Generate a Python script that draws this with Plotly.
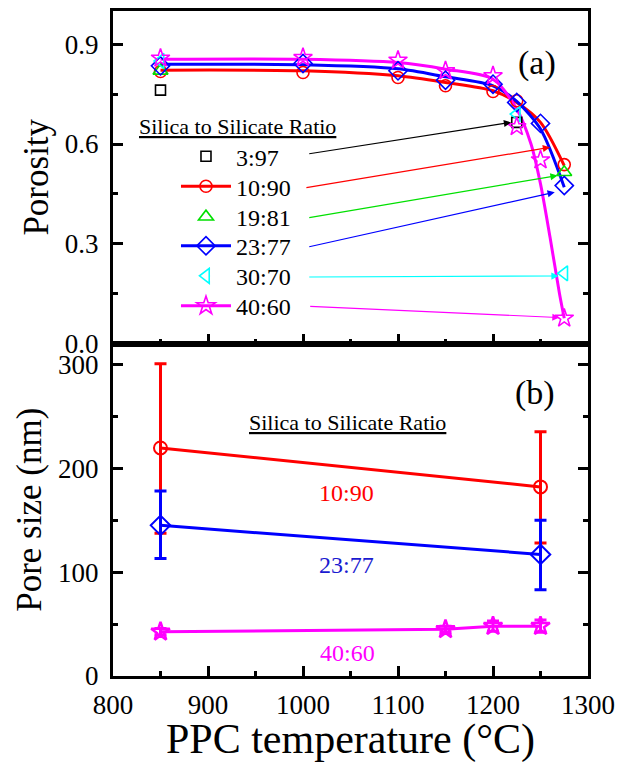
import plotly.graph_objects as go

FONT = "Liberation Serif"

# ---------------- Panel (a): porosity vs PPC temperature ----------------
ratios = ["3:97", "10:90", "19:81", "23:77", "30:70", "40:60"]

T_black = [850, 1225]
P_black = [0.762, 0.665]

T_red = [850, 1000, 1100, 1150, 1200, 1225, 1275]
P_red = [0.818, 0.815, 0.800, 0.775, 0.758, 0.730, 0.538]

T_green = [850, 1275]
P_green = [0.820, 0.515]

T_blue = [850, 1000, 1100, 1150, 1200, 1225, 1250, 1275]
P_blue = [0.835, 0.842, 0.820, 0.792, 0.780, 0.725, 0.662, 0.475]

T_cyan = [850, 1225, 1275]
P_cyan = [0.850, 0.690, 0.211]

T_mag = [850, 1000, 1100, 1150, 1200, 1225, 1250, 1275]
P_mag = [0.858, 0.860, 0.852, 0.820, 0.805, 0.652, 0.552, 0.076]

# fitted curves
fitT_red = [850, 1000, 1100, 1150, 1200, 1225, 1250, 1275]
fitP_red = [0.822, 0.820, 0.805, 0.785, 0.760, 0.725, 0.665, 0.535]
fitT_blue = [850, 1000, 1100, 1150, 1200, 1225, 1250, 1275]
fitP_blue = [0.840, 0.838, 0.826, 0.802, 0.775, 0.728, 0.645, 0.470]
fitT_mag = [850, 1000, 1100, 1150, 1200, 1225, 1240, 1250, 1260, 1270, 1275]
fitP_mag = [0.855, 0.855, 0.845, 0.825, 0.795, 0.705, 0.600, 0.480, 0.320, 0.150, 0.076]

# ---------------- Panel (b): pore size ----------------
Tb_red = [850, 1250]
S_red = [219.5, 182.0]
Eup_red = [81, 53]
Edn_red = [82, 54]

Tb_blue = [850, 1250]
S_blue = [145.0, 117.0]
Eup_blue = [33, 33]
Edn_blue = [32, 34]

Tb_mag = [850, 1150, 1200, 1250]
S_mag = [42.6, 44.9, 48.0, 48.0]
E_mag = [3, 3, 5, 6]

x_ticks = [800, 900, 1000, 1100, 1200, 1300]

RED, GREEN, BLUE, CYAN, MAG, BLACK = "#FF0000", "#00E000", "#0000FF", "#00FFFF", "#FF00FF", "#000000"

fig = go.Figure()

# fitted lines (top panel)
for tx, py, col in [(fitT_red, fitP_red, RED), (fitT_blue, fitP_blue, BLUE), (fitT_mag, fitP_mag, MAG)]:
    fig.add_trace(go.Scatter(x=tx, y=py, mode="lines", line=dict(color=col, width=3, shape="spline", smoothing=0.8),
                             xaxis="x2", yaxis="y2", showlegend=False, hoverinfo="skip"))

series = [
    (T_black, P_black, BLACK, "square-open", 10),
    (T_red, P_red, RED, "circle-open", 12),
    (T_green, P_green, GREEN, "triangle-up-open", 13),
    (T_blue, P_blue, BLUE, "diamond-open", 14),
    (T_cyan, P_cyan, CYAN, "triangle-left-open", 13),
    (T_mag, P_mag, MAG, "star-open", 14),
]
for tx, py, col, sym, sz in series:
    fig.add_trace(go.Scatter(x=tx, y=py, mode="markers",
                             marker=dict(symbol=sym, size=sz, color=col, line=dict(color=col, width=1.6)),
                             xaxis="x2", yaxis="y2", showlegend=False))

# legend entries: one small legend per entry so that the spacing can follow the reference
has_line = [False, True, False, True, False, True]
legend_names = ["legend", "legend2", "legend3", "legend4", "legend5", "legend6"]
for (tx, py, col, sym, sz), name, hl, lg in zip(series, ratios, has_line, legend_names):
    fig.add_trace(go.Scatter(x=[None], y=[None], name=name, mode="lines+markers" if hl else "markers",
                             line=dict(color=col, width=3),
                             marker=dict(symbol=sym, size=sz, color=col, line=dict(color=col, width=1.6)),
                             xaxis="x2", yaxis="y2", showlegend=True, legend=lg))

# bottom panel
fig.add_trace(go.Scatter(x=Tb_red, y=S_red, mode="lines+markers", line=dict(color=RED, width=3),
                         marker=dict(symbol="circle-open", size=13, color=RED, line=dict(color=RED, width=2)),
                         error_y=dict(type="data", array=Eup_red, arrayminus=Edn_red, color=RED, thickness=3, width=6),
                         showlegend=False))
fig.add_trace(go.Scatter(x=Tb_blue, y=S_blue, mode="lines+markers", line=dict(color=BLUE, width=3),
                         marker=dict(symbol="diamond-open", size=15, color=BLUE, line=dict(color=BLUE, width=2)),
                         error_y=dict(type="data", array=Eup_blue, arrayminus=Edn_blue, color=BLUE, thickness=3, width=6),
                         showlegend=False))
fig.add_trace(go.Scatter(x=Tb_mag, y=S_mag, mode="lines+markers", line=dict(color=MAG, width=3),
                         marker=dict(symbol="star-open", size=14, color=MAG, line=dict(color=MAG, width=2.5)),
                         error_y=dict(type="data", array=E_mag, color=MAG, thickness=3, width=6),
                         showlegend=False))

# arrows from legend to curves
arrows = [
    (BLACK, 1005, 0.570, 1219, 0.665),
    (RED, 1002, 0.468, 1260, 0.590),
    (GREEN, 1005, 0.378, 1268, 0.505),
    (BLUE, 1005, 0.290, 1265, 0.455),
    (CYAN, 1005, 0.200, 1269, 0.203),
    (MAG, 1006, 0.112, 1270, 0.078),
]
annotations = []
for col, x0, y0, x1, y1 in arrows:
    annotations.append(dict(x=x1, y=y1, ax=x0, ay=y0, xref="x2", yref="y2", axref="x2", ayref="y2",
                            text="", showarrow=True, arrowhead=2, arrowsize=1.2, arrowwidth=1.2,
                            arrowcolor=col, standoff=0))

def txt(x, y, s, size, color="black", xref="paper", yref="paper"):
    return dict(x=x, y=y, xref=xref, yref=yref, text=s, showarrow=False, xanchor="center", yanchor="middle",
                font=dict(family=FONT, size=size, color=color))

annotations += [
    txt(0.263, 0.8256, "<u>Silica to Silicate Ratio</u>", 22),
    txt(0.494, 0.381, "<u>Silica to Silicate Ratio</u>", 22),
    txt(0.893, 0.922, "(a)", 34),
    txt(0.888, 0.4256, "(b)", 34),
    txt(1046, 175.7, "10:90", 24, RED, "x", "y"),
    txt(1046, 106.7, "23:77", 24, "#1a1ad0", "x", "y"),
    txt(1047, 21.8, "40:60", 24, MAG, "x", "y"),
]

axis_common = dict(showline=True, linecolor="black", linewidth=3, ticks="inside", ticklen=10, tickwidth=2.5,
                   tickcolor="black", showgrid=False, zeroline=False, automargin=False,
                   tickfont=dict(family=FONT, size=27, color="black"))
minor_common = dict(ticks="inside", ticklen=5, tickwidth=2.5, tickcolor="black")

legend_y = [0.7809, 0.7358, 0.6901, 0.6463, 0.6012, 0.5561]
legend_layout = {}
for lg, ly in zip(legend_names, legend_y):
    legend_layout[lg] = dict(x=0.1326, y=ly, xanchor="left", yanchor="middle", bgcolor="rgba(0,0,0,0)",
                             font=dict(family=FONT, size=24, color="black"), itemwidth=50,
                             itemsizing="trace")

fig.update_layout(
    width=619, height=763,
    margin=dict(l=113, r=31, t=11, b=87),
    paper_bgcolor="white", plot_bgcolor="white",
    font=dict(family=FONT, color="black"),
    showlegend=True,
    xaxis=dict(domain=[0, 1], anchor="y", range=[800, 1300], tickvals=x_ticks, mirror=True,
               minor=dict(dtick=50, **minor_common),
               title=dict(text="PPC temperature (°C)", font=dict(family=FONT, size=42, color="black"), standoff=3),
               ticklabelstandoff=3, **axis_common),
    xaxis2=dict(domain=[0, 1], anchor="y2", range=[800, 1300], tickvals=x_ticks, matches="x",
                showticklabels=False, mirror=True,
                minor=dict(dtick=50, **minor_common),
                **axis_common),
    yaxis=dict(domain=[0, 0.5], anchor="x", range=[0, 320], dtick=100, tick0=0, mirror="ticks",
               minor=dict(dtick=50, **minor_common),
               title=dict(text="Pore size (nm)", font=dict(family=FONT, size=35, color="black"), standoff=6),
               ticklabelstandoff=6, **axis_common),
    yaxis2=dict(domain=[0.5, 1], anchor="x2", range=[0, 1.0], dtick=0.3, tick0=0, tickformat=".1f",
                mirror="ticks",
                minor=dict(dtick=0.15, **minor_common),
                title=dict(text="Porosity", font=dict(family=FONT, size=35, color="black"), standoff=6),
                ticklabelstandoff=6, **axis_common),
    annotations=annotations,
    **legend_layout,
)

fig.write_html(
    "out.html",
    config={"displayModeBar": False},
    post_script="document.body.style.margin='0';document.body.style.overflow='hidden';",
)
